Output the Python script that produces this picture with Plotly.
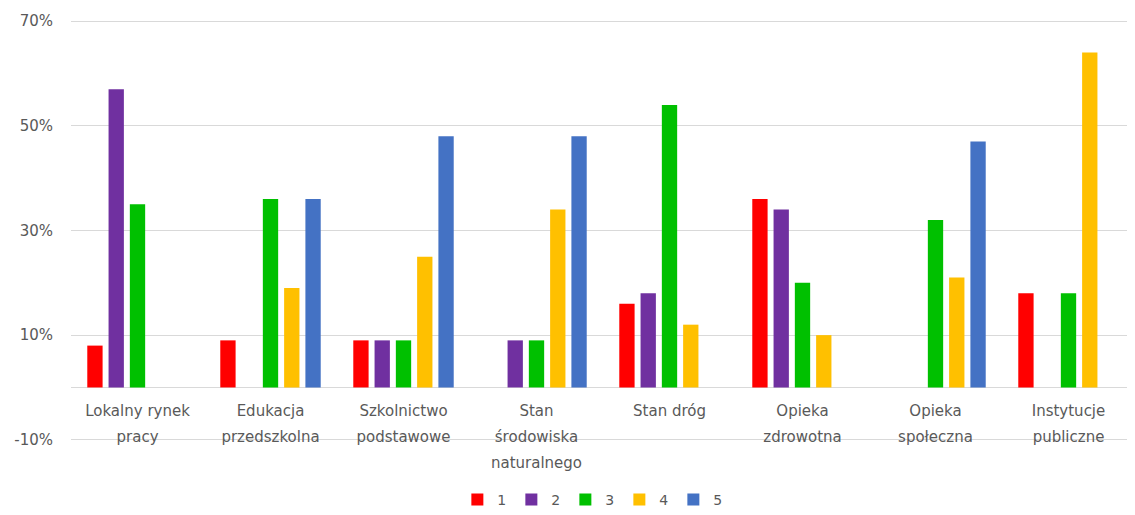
import plotly.graph_objects as go

# category labels (wrapped like the original)
categories = [
    ["Lokalny rynek", "pracy"],
    ["Edukacja", "przedszkolna"],
    ["Szkolnictwo", "podstawowe"],
    ["Stan", "środowiska", "naturalnego"],
    ["Stan dróg"],
    ["Opieka", "zdrowotna"],
    ["Opieka", "społeczna"],
    ["Instytucje", "publiczne"],
]

# percentage values per rating, None = no bar
s1 = [8, 9, 9, None, 16, 36, None, 18]
s2 = [57, None, 9, 9, 18, 34, None, None]
s3 = [35, 36, 9, 9, 54, 20, 32, 18]
s4 = [None, 19, 25, 34, 12, 10, 21, 64]
s5 = [None, 36, 48, 48, None, None, 47, None]

series_names = ["1", "2", "3", "4", "5"]
series_vals = [s1, s2, s3, s4, s5]
colors = ["#FF0000", "#7030A0", "#00C000", "#FFC000", "#4472C4"]

y_ticks = [-10, 10, 30, 50, 70]
y_labels = ["-10%", "10%", "30%", "50%", "70%"]

grey = "#595959"
grid = "#D9D9D9"
font_family = "DejaVu Sans"

x_keys = [" ".join(c) for c in categories]
# bigger base font gives the loose line spacing, span keeps glyphs small
tick_text = ["<br>".join("<span style='font-size:15px'>%s</span>" % ln for ln in c)
             for c in categories]

fig = go.Figure()
for name, vals, col in zip(series_names, series_vals, colors):
    fig.add_trace(go.Bar(
        x=x_keys, y=vals, name=name,
        marker=dict(color=col, line=dict(width=0)),
    ))

# page body has an 8px margin, so the figure is 8px smaller each way
fig.update_layout(
    barmode="group",
    bargap=0.2,
    bargroupgap=0.28,
    width=1127, height=507,
    margin=dict(l=63, r=0, t=8, b=70),
    plot_bgcolor="white",
    paper_bgcolor="white",
    font=dict(family=font_family, color=grey, size=14),
    legend=dict(
        orientation="h",
        x=0.49, xanchor="center",
        yref="container",
        y=0.03, yanchor="middle",
        font=dict(size=14, color=grey),
        itemwidth=30,
        entrywidth=9,
        traceorder="normal",
    ),
    showlegend=True,
)

fig.update_yaxes(
    range=[-11, 71],
    tickmode="array",
    tickvals=y_ticks,
    ticktext=y_labels,
    showgrid=True, gridcolor=grid, gridwidth=1,
    zeroline=True, zerolinecolor=grid, zerolinewidth=1,
    tickfont=dict(size=15, color=grey),
    ticklabelstandoff=17,
    automargin=False,
    fixedrange=True,
)

fig.update_xaxes(
    anchor="free",
    position=11 / 82,
    tickvals=x_keys,
    ticktext=tick_text,
    tickfont=dict(size=20, color=grey),
    ticklabelstandoff=8,
    showgrid=False,
    showline=False,
    ticks="",
    tickangle=0,
    automargin=False,
    fixedrange=True,
)

fig.write_html("out.html")
